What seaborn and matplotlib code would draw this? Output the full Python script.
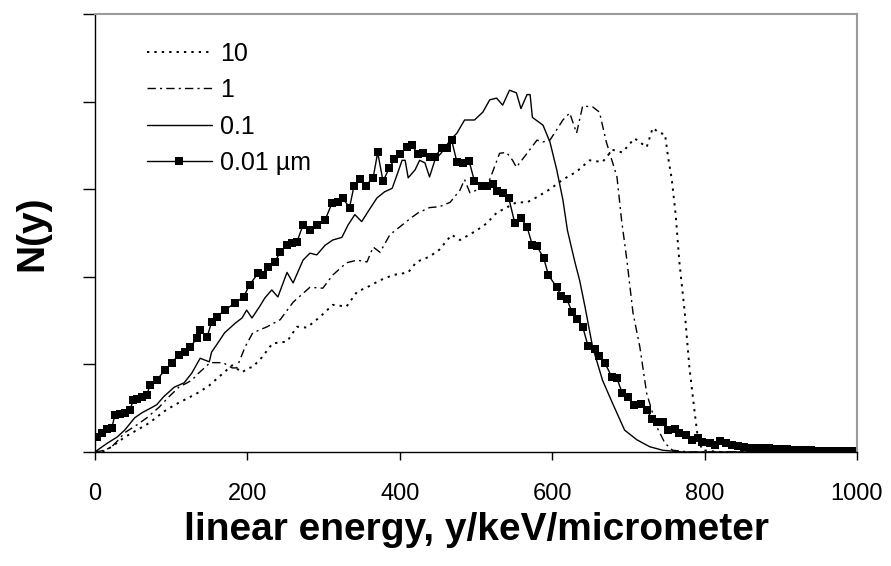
import numpy as np
import pandas as pd
import matplotlib
matplotlib.use("Agg")
import matplotlib.pyplot as plt
import seaborn as sns

# ---- data ----
x_10 = [0, 9, 22, 39, 55, 71, 90, 105, 123, 136, 150, 163, 180, 193, 202, 207, 219, 233,
        252, 265, 278, 295, 312, 330, 344, 357, 374, 391, 411, 422, 439, 452, 468, 479,
        501, 514, 527, 540, 553, 567, 580, 597, 614, 632, 649, 666, 679, 692, 708, 724,
        732, 741, 748, 752, 757, 762, 767, 774, 780, 787, 791, 797, 820, 1000]
y_10 = [0, 0, 0.06, 0.17, 0.25, 0.33, 0.46, 0.54, 0.62, 0.68, 0.76, 0.86, 0.99, 0.91,
        0.96, 0.97, 1.08, 1.24, 1.26, 1.43, 1.42, 1.54, 1.68, 1.66, 1.83, 1.88, 1.96,
        2.02, 2.05, 2.17, 2.23, 2.31, 2.48, 2.42, 2.53, 2.61, 2.73, 2.79, 2.85, 2.85,
        2.91, 3.00, 3.11, 3.20, 3.33, 3.31, 3.45, 3.42, 3.58, 3.48, 3.70, 3.64, 3.63,
        3.37, 3.11, 2.71, 2.16, 1.59, 0.97, 0.45, 0.17, 0.02, 0, 0]

x_1 = [0, 13, 22, 31, 39, 55, 68, 84, 97, 110, 121, 127, 136, 151, 168, 180, 186, 197,
       207, 226, 243, 260, 282, 299, 312, 330, 344, 357, 365, 374, 387, 400, 416, 424,
       439, 452, 466, 479, 485, 492, 501, 518, 531, 540, 548, 553, 567, 580, 588, 597,
       606, 614, 623, 632, 640, 653, 662, 671, 685, 691, 698, 706, 715, 724, 737, 748,
       758, 780, 1000]
y_1 = [0, 0.02, 0.06, 0.14, 0.22, 0.31, 0.39, 0.51, 0.63, 0.74, 0.79, 0.82, 0.90, 1.02,
       1.02, 0.96, 0.96, 1.20, 1.36, 1.43, 1.51, 1.71, 1.88, 1.87, 2.02, 2.16, 2.19,
       2.17, 2.34, 2.28, 2.48, 2.57, 2.68, 2.73, 2.79, 2.80, 2.85, 2.99, 3.11, 2.96,
       2.99, 3.11, 3.41, 3.42, 3.33, 3.25, 3.41, 3.56, 3.54, 3.56, 3.68, 3.79, 3.87,
       3.64, 3.95, 3.94, 3.88, 3.54, 3.14, 2.65, 2.19, 1.59, 1.20, 0.67, 0.29, 0.10,
       0.02, 0, 0]

x_01 = [0, 3, 16, 29, 39, 52, 62, 75, 81, 90, 104, 117, 127, 138, 150, 153, 164, 170,
        184, 193, 199, 206, 216, 223, 232, 240, 252, 260, 273, 282, 291, 302, 312, 324,
        332, 341, 350, 358, 370, 380, 390, 397, 403, 407, 411, 420, 426, 433, 439, 446,
        455, 466, 475, 485, 498, 509, 518, 527, 535, 544, 553, 559, 567, 571, 574, 588,
        597, 606, 614, 620, 630, 636, 643, 653, 666, 679, 695, 711, 728, 745, 771, 820,
        1000]
y_01 = [0, 0.02, 0.10, 0.17, 0.25, 0.39, 0.45, 0.51, 0.54, 0.63, 0.74, 0.79, 0.90, 1.07,
        1.03, 1.14, 1.28, 1.36, 1.47, 1.53, 1.62, 1.53, 1.66, 1.76, 1.85, 1.77, 2.05,
        1.93, 2.19, 2.27, 2.25, 2.36, 2.42, 2.45, 2.59, 2.71, 2.63, 2.74, 2.90, 2.97,
        3.01, 3.18, 3.33, 3.33, 3.13, 3.22, 3.33, 3.30, 3.14, 3.33, 3.42, 3.56, 3.64,
        3.79, 3.79, 3.88, 4.02, 4.04, 3.96, 4.13, 4.10, 3.92, 4.08, 4.08, 3.82, 3.73,
        3.54, 3.22, 2.88, 2.53, 2.16, 1.96, 1.66, 1.20, 0.82, 0.56, 0.25, 0.14, 0.06,
        0.02, 0, 0, 0]

x_001 = [3, 9, 16, 22, 26, 33, 39, 46, 50, 55, 62, 68, 72, 81, 92, 101, 110, 118, 125,
         134, 138, 147, 153, 160, 170, 184, 195, 203, 214, 220, 227, 236, 243, 252, 258,
         265, 273, 282, 291, 302, 311, 319, 325, 334, 340, 348, 355, 365, 371, 378, 386,
         393, 400, 409, 416, 424, 431, 439, 446, 455, 462, 468, 475, 483, 491, 498, 508,
         514, 522, 527, 535, 543, 551, 559, 567, 574, 580, 589, 595, 606, 612, 619, 626,
         633, 640, 647, 656, 662, 669, 678, 685, 692, 699, 708, 717, 724, 731, 737, 745,
         752, 761, 767, 776, 784, 791, 797, 807, 813, 820, 828, 836, 844, 852, 860, 868,
         876, 884, 892, 900, 908, 916, 924, 932, 940, 948, 956, 964, 972, 980, 988, 996]
y_001 = [0.17, 0.22, 0.26, 0.27, 0.42, 0.43, 0.45, 0.48, 0.59, 0.61, 0.63, 0.65, 0.76,
         0.82, 0.94, 1.02, 1.11, 1.14, 1.20, 1.30, 1.39, 1.31, 1.48, 1.54, 1.62, 1.70,
         1.77, 1.91, 2.04, 2.02, 2.11, 2.17, 2.28, 2.36, 2.39, 2.40, 2.59, 2.53, 2.59,
         2.65, 2.84, 2.85, 2.90, 2.79, 3.04, 3.12, 3.04, 3.13, 3.42, 3.09, 3.24, 3.34,
         3.40, 3.48, 3.50, 3.40, 3.41, 3.37, 3.37, 3.47, 3.47, 3.56, 3.31, 3.30, 3.32,
         3.09, 3.04, 3.04, 3.06, 2.98, 2.96, 2.90, 2.61, 2.67, 2.57, 2.36, 2.35, 2.21,
         2.02, 1.88, 1.78, 1.75, 1.60, 1.52, 1.43, 1.21, 1.18, 1.10, 1.02, 0.86, 0.84,
         0.67, 0.63, 0.54, 0.55, 0.48, 0.38, 0.34, 0.34, 0.25, 0.26, 0.22, 0.19, 0.14,
         0.16, 0.11, 0.10, 0.08, 0.13, 0.10, 0.08, 0.07, 0.06, 0.05, 0.05, 0.04, 0.04,
         0.03, 0.03, 0.03, 0.02, 0.02, 0.02, 0.02, 0.01, 0.01, 0.01, 0.01, 0.01, 0.01,
         0.01]

labels = ["10", "1", "0.1", "0.01 \u00b5m"]
x_ticks = [0, 200, 400, 600, 800, 1000]
y_ticks = [0, 1, 2, 3, 4, 5]

# ---- plot ----
sns.set_theme(style="ticks")
plt.rcParams["font.family"] = ["Liberation Sans", "DejaVu Sans"]
plt.rcParams["text.color"] = "black"
plt.rcParams["axes.labelcolor"] = "black"
plt.rcParams["xtick.color"] = "black"
plt.rcParams["ytick.color"] = "black"

fig = plt.figure(figsize=(8.91, 5.66), dpi=100)
ax = fig.add_axes([95 / 891, 1 - 452 / 566, (857 - 95) / 891, (452 - 14) / 566])

series = [
    (x_10, y_10, dict(color="black", lw=1.4, linestyle=(0, (1.2, 2.6)))),
    (x_1, y_1, dict(color="black", lw=1.0, linestyle=(0, (6, 3, 1.5, 3)))),
    (x_01, y_01, dict(color="black", lw=1.0, linestyle="-")),
    (x_001, y_001, dict(color="black", lw=1.0, linestyle="-", marker="s",
                        markersize=5.2, markeredgewidth=0)),
]
for (xs, ys, kw), lab in zip(series, labels):
    df = pd.DataFrame({"x": xs, "y": ys})
    sns.lineplot(data=df, x="x", y="y", ax=ax, estimator=None, sort=False,
                 label=lab, **kw)

ax.set_xlim(0, 1000)
ax.set_ylim(0, 5)
ax.set_xticks(x_ticks)
ax.set_xticklabels([str(t) for t in x_ticks], fontsize=17, color="black")
ax.set_yticks(y_ticks)
ax.set_yticklabels([])
ax.tick_params(axis="x", direction="out", length=6, width=1, color="black", pad=16)
ax.tick_params(axis="y", direction="out", length=8.5, width=1, color="black")

for s in ["left", "bottom"]:
    ax.spines[s].set_color("black")
    ax.spines[s].set_linewidth(1.0)
for s in ["top", "right"]:
    ax.spines[s].set_color("#9a9a9a")
    ax.spines[s].set_linewidth(1.5)
    ax.spines[s].set_visible(True)

ax.set_xlabel("linear energy, y/keV/micrometer", fontsize=28, fontweight="bold",
              labelpad=5, color="black")
ax.set_ylabel("N(y)", fontsize=28, fontweight="bold", labelpad=20, color="black")

leg = ax.legend(loc="upper left", bbox_to_anchor=(0.055, 0.96), frameon=False,
                fontsize=18, handlelength=2.6, handletextpad=0.32, labelspacing=0.5,
                borderaxespad=0)
for t in leg.get_texts():
    t.set_color("black")

fig.savefig("out.png", dpi=100)
